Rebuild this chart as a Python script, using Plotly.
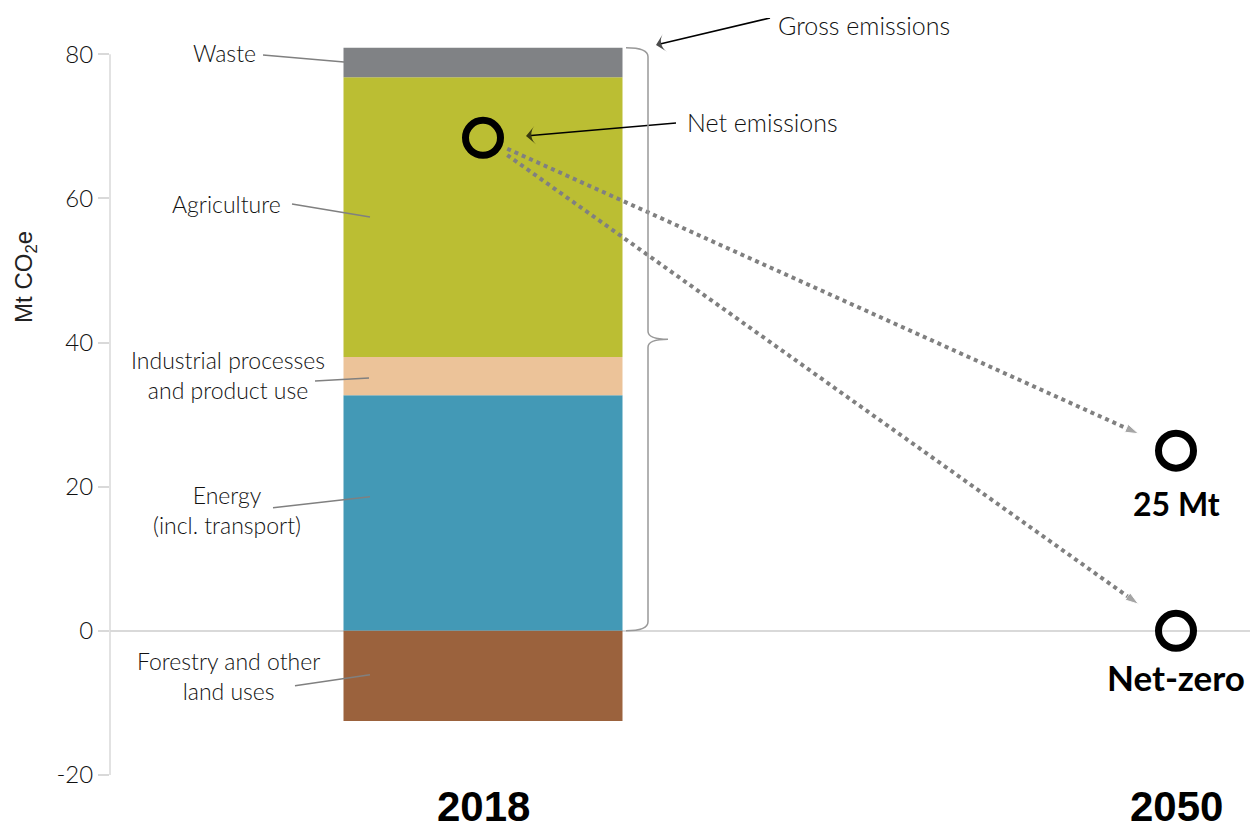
import plotly.graph_objects as go

# ---------------- data ----------------
years = ["2018", "2050"]
sectors = ["Energy", "Industrial processes and product use", "Agriculture", "Waste", "Forestry and other land uses"]
values_2018 = [32.7, 5.3, 38.8, 4.1, -12.5]
colors = ["#4399b6", "#ecc399", "#bbbe33", "#808285", "#9b623d"]
targets_2050 = [25, 0]
target_labels = ["25 Mt", "Net-zero"]
target_sizes = [32, 35]
target_shifts = [-53, -46]
y_ticks = [-20, 0, 20, 40, 60, 80]
y_ticktext = ["-20", "0", "20", "40", "60", "80"]

gross = sum(v for v in values_2018 if v > 0)
net = sum(values_2018)

# ---------------- layout geometry ----------------
OFF = 8                       # page body margin
W, H = 1258 - OFF, 825 - OFF
ML, MR, MT = 110 - OFF, 0, 18 - OFF
X0PX, XS = 483.0, 693.0       # (reference px) x=0 at 483, 693 px per unit
Y0PX, YS = 631.0, 7.21        # (reference px) y=0 at 631
XR = [(110 - X0PX) / XS, (1258 - X0PX) / XS]
YR = [-20, (Y0PX - 18) / YS]
MB = H - MT - round((YR[1] - YR[0]) * YS)


def dx(px):
    return (px - X0PX) / XS


def dy(py):
    return (Y0PX - py) / YS


FONT = "Lato, Noto Sans, sans-serif"
TXT = "#111111"
BAR_W = 279 / XS

fig = go.Figure()

for name, v, c in zip(sectors, values_2018, colors):
    fig.add_trace(go.Bar(x=[0], y=[v], name=name, width=BAR_W,
                         marker=dict(color=c, line=dict(width=0)),
                         hoverinfo="name+y"))

# dotted arrows from net emissions to 2050 targets
for t in targets_2050:
    t0, t1 = 0.035, 0.946
    xs = [t0, t1]
    ys = [net + (t - net) * t0, net + (t - net) * t1]
    fig.add_trace(go.Scatter(x=xs, y=ys, mode="lines+markers",
                             line=dict(color="#808080", width=4, dash="dot"),
                             marker=dict(symbol="arrow", angleref="previous",
                                         size=[0, 14], color="#808080"),
                             hoverinfo="skip", showlegend=False))

# black callout arrows (tail -> tip, reference px)
callouts = [((770, 18), (656, 45)), ((676, 123), (526, 136))]
for (a, b) in callouts:
    fig.add_trace(go.Scatter(x=[dx(a[0]), dx(b[0])], y=[dy(a[1]), dy(b[1])],
                             mode="lines+markers",
                             line=dict(color="black", width=1.6),
                             marker=dict(symbol="arrow-wide", angleref="previous",
                                         size=[0, 13], color="black",
                                         line=dict(width=0)),
                             hoverinfo="skip", showlegend=False))

# circles
fig.add_trace(go.Scatter(x=[0, 1, 1], y=[net] + targets_2050, mode="markers",
                         marker=dict(symbol="circle-open", size=35, color="black",
                                     line=dict(width=7, color="black")),
                         hoverinfo="y", showlegend=False))

shapes = []
shapes.append(dict(type="line", xref="paper", yref="y", x0=0, x1=0, y0=-20, y1=80,
                   line=dict(color="#d9d9d9", width=1.5), layer="below"))
leaders = [((263, 55), (344, 62)), ((292, 204), (370, 217)), ((315, 381), (369, 378)),
           ((273, 508), (370, 497)), ((295, 686), (370, 675))]
for (a, b) in leaders:
    shapes.append(dict(type="line", xref="x", yref="y", x0=dx(a[0]), y0=dy(a[1]),
                       x1=dx(b[0]), y1=dy(b[1]), line=dict(color="#808080", width=1.5)))


def P(px, py):
    return f"{dx(px):.5f},{dy(py):.5f}"


ytop = Y0PX - gross * YS
ymid = (ytop + Y0PX) / 2
path = (f"M {P(626, ytop)} Q {P(648, ytop)} {P(648, ytop + 9)} L {P(648, ymid - 8)} "
        f"Q {P(648, ymid)} {P(668, ymid)} Q {P(648, ymid)} {P(648, ymid + 8)} "
        f"L {P(648, Y0PX - 9)} Q {P(648, Y0PX)} {P(626, Y0PX)}")
shapes.append(dict(type="path", xref="x", yref="y", path=path,
                   line=dict(color="#999999", width=1.5)))

ann = []
lab_font = dict(family=FONT, size=23, color=TXT, weight=300)
big_font = dict(family=FONT, size=25, color=TXT, weight=300)
labels = [("Waste", 258, 53, "right"), ("Agriculture", 283, 204, "right"),
          ("Industrial processes<br>and product use", 228, 375, "center"),
          ("Energy<br>(incl. transport)", 227, 510, "center"),
          ("Forestry and other<br>land uses", 228, 676, "center")]
for txt, px, py, al in labels:
    ann.append(dict(x=dx(px), y=dy(py), xref="x", yref="y", text=txt, showarrow=False,
                    xanchor=al, yanchor="middle", align="center", font=lab_font))

ann.append(dict(x=dx(776), y=dy(25), xref="x", yref="y", text="Gross emissions",
                showarrow=False, xanchor="left", font=big_font))
ann.append(dict(x=dx(685), y=dy(122), xref="x", yref="y", text="Net emissions",
                showarrow=False, xanchor="left", font=big_font))

for t, lab, s, sh in zip(targets_2050, target_labels, target_sizes, target_shifts):
    ann.append(dict(x=1, y=t, xref="x", yref="y", text=f"<b>{lab}</b>", showarrow=False,
                    xanchor="center", yanchor="middle", yshift=sh,
                    font=dict(family=FONT, size=s, color="black")))

for i, yr in enumerate(years):
    ann.append(dict(x=i, y=-20, xref="x", yref="y", text=f"<b>{yr}</b>", showarrow=False,
                    xanchor="center", yanchor="middle", yshift=-31,
                    font=dict(family="Liberation Sans, Arial, sans-serif", size=42, color="black")))

plot_w = W - ML - MR
ann.append(dict(x=(26 - 110) / plot_w, y=dy(277), xref="paper", yref="y",
                text="Mt CO<sub>2</sub>e", showarrow=False, textangle=-90,
                xanchor="center", yanchor="middle",
                font=dict(family="Liberation Sans, Arial, sans-serif", size=24, color="#222222")))

fig.update_layout(
    width=W, height=H, margin=dict(l=ML, r=MR, t=MT, b=MB),
    barmode="relative", showlegend=False,
    plot_bgcolor="white", paper_bgcolor="white",
    xaxis=dict(range=XR, showgrid=False, zeroline=False, showticklabels=False,
               ticks="", showline=False, fixedrange=True),
    yaxis=dict(range=YR, tickvals=y_ticks, ticktext=y_ticktext, showgrid=False,
               zeroline=True, zerolinecolor="#d9d9d9", zerolinewidth=1.5, showline=False,
               ticks="outside", ticklen=11, tickcolor="#d9d9d9", tickwidth=1.5,
               tickfont=dict(family=FONT, size=24, color=TXT, weight=300),
               fixedrange=True),
    shapes=shapes, annotations=ann,
)

fig.write_html("out.html")
